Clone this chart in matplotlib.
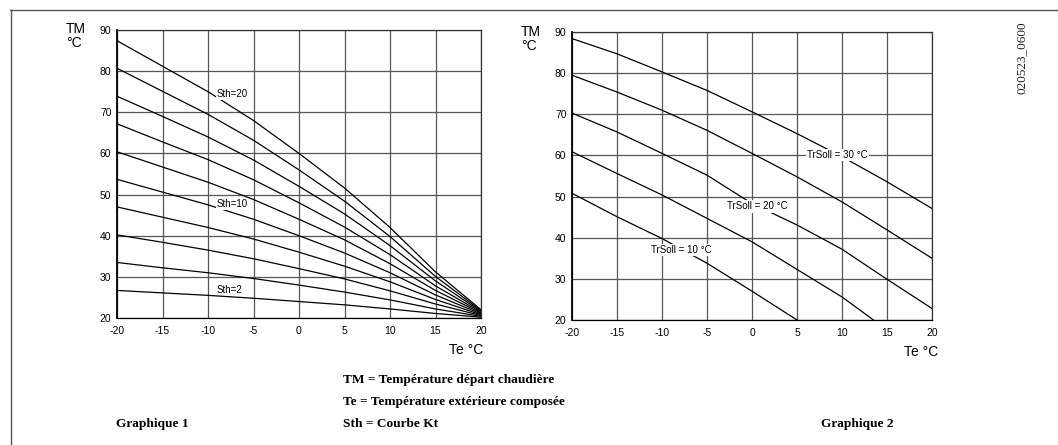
import matplotlib
matplotlib.use("Agg")
import matplotlib.pyplot as plt
from matplotlib.lines import Line2D

plt.rcParams["axes.unicode_minus"] = False

# Graphique 1 : courbes Sth (Te de -20 a 20 par pas de 5)
te_grid = [-20, -15, -10, -5, 0, 5, 10, 15, 20]
sth_curves = {
    2:  [26.7, 26.1, 25.5, 24.8, 24.0, 23.2, 22.2, 21.1, 20.2],
    4:  [33.5, 32.2, 31.0, 29.6, 28.0, 26.3, 24.4, 22.2, 20.4],
    6:  [40.2, 38.4, 36.5, 34.4, 32.0, 29.5, 26.6, 23.4, 20.6],
    8:  [47.0, 44.5, 42.0, 39.2, 36.0, 32.6, 28.8, 24.5, 20.8],
    10: [53.7, 50.6, 47.5, 44.0, 40.0, 35.8, 31.0, 25.6, 21.0],
    12: [60.4, 56.7, 53.0, 48.8, 44.0, 39.0, 33.2, 26.7, 21.2],
    14: [67.2, 62.8, 58.5, 53.6, 48.0, 42.1, 35.4, 27.8, 21.4],
    16: [73.9, 69.0, 64.0, 58.4, 52.0, 45.3, 37.6, 29.0, 21.6],
    18: [80.7, 75.1, 69.5, 63.2, 56.0, 48.4, 39.8, 30.1, 21.8],
    20: [87.4, 81.2, 75.0, 68.0, 60.0, 51.6, 42.0, 31.2, 22.0],
}
sth_labels = ["Sth=20", "Sth=10", "Sth=2"]
sth_label_pos = [(-7.3, 74.4), (-7.3, 47.6), (-7.6, 26.9)]

# Graphique 2 : courbes TrSoll
tr30_x = [-20, -15, -10, -5, 0, 5, 10, 15, 20]
tr30_y = [88.4, 84.7, 80.3, 75.8, 70.6, 65.3, 59.7, 53.6, 47.1]
tr25_x = [-20, -15, -10, -5, 0, 5, 10, 15, 20]
tr25_y = [79.5, 75.4, 71.0, 66.1, 60.5, 54.8, 48.7, 41.9, 35.0]
tr20_x = [-20, -15, -10, -5, 0, 5, 10, 15, 20]
tr20_y = [70.3, 65.7, 60.5, 55.2, 48.3, 43.1, 37.2, 29.9, 22.8]
tr15_x = [-20, -15, -10, -5, 0, 5, 10, 13.5]
tr15_y = [60.9, 55.6, 50.4, 44.7, 39.0, 32.3, 25.6, 20.0]
tr10_x = [-20, -15, -10, -5, 0, 5]
tr10_y = [50.8, 45.1, 39.8, 33.8, 27.0, 20.0]
tr_labels = ["TrSoll = 30 °C", "TrSoll = 20 °C", "TrSoll = 10 °C"]
tr_label_pos = [(9.5, 60.0), (0.6, 47.6), (-7.8, 37.1)]

x_ticks = [-20, -15, -10, -5, 0, 5, 10, 15, 20]
y_ticks = [20, 30, 40, 50, 60, 70, 80, 90]

W, H = 1058, 445
SANS = "Liberation Sans"
SERIF = "Liberation Serif"


def setup_axes(ax):
    ax.set_xlim(-20, 20)
    ax.set_ylim(20, 90)
    ax.set_xticks(x_ticks)
    ax.set_yticks(y_ticks)
    ax.grid(True, color="#555555", lw=0.9)
    ax.set_axisbelow(True)
    for s in ax.spines.values():
        s.set_color("#333333")
        s.set_linewidth(0.9)
    ax.spines["left"].set_color("black")
    ax.spines["left"].set_linewidth(1.3)
    ax.spines["bottom"].set_color("black")
    ax.tick_params(length=0, labelsize=7.5)
    ax.tick_params(axis="x", pad=6)
    ax.tick_params(axis="y", pad=4)
    for lab in ax.get_xticklabels() + ax.get_yticklabels():
        lab.set_fontfamily(SANS)


fig = plt.figure(figsize=(W / 100, H / 100), dpi=100)

ax1 = fig.add_axes([117 / W, 1 - 318 / H, 364 / W, 288 / H])
setup_axes(ax1)
for sth, vals in sth_curves.items():
    ax1.plot(te_grid, vals, color="black", lw=0.9)
for txt, (x, y) in zip(sth_labels, sth_label_pos):
    ax1.text(x, y, txt, fontsize=7, family=SANS, ha="center", va="center",
             bbox=dict(facecolor="white", edgecolor="none", pad=0.5))

ax2 = fig.add_axes([572 / W, 1 - 320 / H, 360 / W, 288 / H])
setup_axes(ax2)
for xs, ys in [(tr30_x, tr30_y), (tr25_x, tr25_y), (tr20_x, tr20_y),
               (tr15_x, tr15_y), (tr10_x, tr10_y)]:
    ax2.plot(xs, ys, color="black", lw=0.9)
for txt, (x, y) in zip(tr_labels, tr_label_pos):
    ax2.text(x, y, txt, fontsize=7, family=SANS, ha="center", va="center",
             bbox=dict(facecolor="white", edgecolor="none", pad=0.8))

# titres d'axes
for (x, y) in [(66, 36), (521, 39)]:
    fig.text(x / W, 1 - y / H, "TM\n°C", fontsize=10, family=SANS,
             ha="left", va="center", linespacing=1.0)
fig.text(483 / W, 1 - 350 / H, "Te °C", fontsize=10, family=SANS, ha="right", va="center")
fig.text(938 / W, 1 - 352 / H, "Te °C", fontsize=10, family=SANS, ha="right", va="center")

# legende en bas
fig.text(343 / W, 1 - 380 / H, "TM = Température départ chaudière", fontsize=9.6,
         family=SERIF, weight="bold", ha="left", va="center")
fig.text(343 / W, 1 - 402 / H, "Te = Température extérieure composée", fontsize=9.6,
         family=SERIF, weight="bold", ha="left", va="center")
fig.text(343 / W, 1 - 424 / H, "Sth = Courbe Kt", fontsize=9.6,
         family=SERIF, weight="bold", ha="left", va="center")
fig.text(152 / W, 1 - 424 / H, "Graphique 1", fontsize=9.6, family=SERIF,
         weight="bold", ha="center", va="center")
fig.text(857 / W, 1 - 424 / H, "Graphique 2", fontsize=9.6, family=SERIF,
         weight="bold", ha="center", va="center")

fig.text(1022 / W, 1 - 58 / H, "020523_0600", fontsize=9.5, family=SERIF,
         rotation=90, ha="center", va="center", color="#222222")

# cadre (haut et gauche)
fig.add_artist(Line2D([10 / W, 1], [1 - 9.5 / H, 1 - 9.5 / H], color="#555555", lw=1.0))
fig.add_artist(Line2D([10.5 / W, 10.5 / W], [0, 1 - 9.5 / H], color="#555555", lw=1.0))

fig.savefig("out.png", dpi=100)
